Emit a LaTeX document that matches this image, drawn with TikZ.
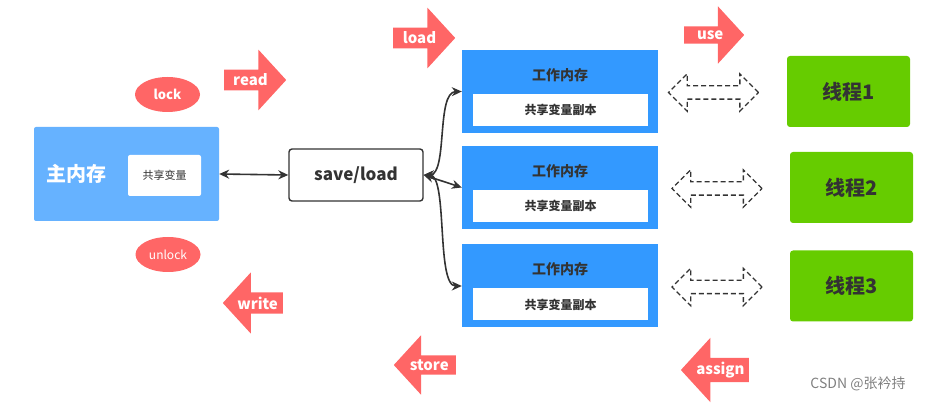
\documentclass[tikz,border=0pt]{standalone}
\usepackage{fontspec}
\setmainfont{Noto Sans CJK SC}
\usetikzlibrary{shapes.geometric}
\usetikzlibrary{shapes.arrows}
\usetikzlibrary{arrows.meta}
\definecolor{mmblue}{HTML}{66B2FF}
\definecolor{wmblue}{HTML}{3399FF}
\definecolor{thgreen}{HTML}{66CC00}
\definecolor{opred}{HTML}{FF6666}
\definecolor{txtdark}{HTML}{333333}
\newcommand{\fsz}[1]{\fontsize{#1}{#1}\selectfont}

\begin{document}
\begin{tikzpicture}[x=1pt,y=-1pt,
opright/.style={single arrow, fill=opred, text=white, font=\fsz{15}\bfseries, inner sep=4pt,
  single arrow head extend=20pt, single arrow tip angle=95, anchor=tail, minimum height=62pt},
opleft/.style={opright, shape border rotate=180},
opoval/.style={ellipse, fill=opred, text=white, minimum width=65pt, minimum height=35pt},
twoway/.style={{Stealth[length=10pt,width=9pt]}-{Stealth[length=10pt,width=9pt]}, draw=txtdark, line width=1.6pt},
swap/.style={double arrow, draw=txtdark, dashed, dash pattern=on 5pt off 3pt, line width=1.3pt,
  inner xsep=0pt, inner ysep=6pt, double arrow head extend=12pt, double arrow tip angle=90, minimum height=90pt}]
\useasboundingbox (0,0) rectangle (940,403);

\node[fill=mmblue, rounded corners=2pt, minimum width=185pt, minimum height=94pt] (mm) at (126.5,174) {};
\node[text=white, font=\fsz{20}\bfseries] (mmlabel) at (76,174) {主内存};
\node[fill=white, rounded corners=2pt, minimum width=73pt, minimum height=41pt, text=txtdark, font=\fsz{11}] (mmvar) at (164.5,175.5) {共享变量};
\node[opoval, font=\fsz{13}\bfseries] (lock) at (167.5,94.5) {lock};
\node[opoval, font=\fsz{12}] (unlock) at (168,254.5) {unlock};

\node[draw=txtdark, line width=1.4pt, rounded corners=3pt, fill=white, minimum width=134pt, minimum height=52pt,
  text=txtdark, font=\fsz{17}\bfseries] (sl) at (356,175) {save/load};

\foreach \i/\y/\tx/\dx in {1/91.5/848.5/713.5, 2/187.5/851.5/717, 3/286/851.5/717} {
  \node[fill=wmblue, minimum width=196pt, minimum height=83pt] (wm\i) at (560,\y) {};
  \node[text=txtdark, font=\fsz{14}\bfseries] (wmtitle\i) at (560,\y-16.5) {工作内存};
  \node[fill=white, minimum width=175pt, minimum height=32pt, text=txtdark, font=\fsz{12}\bfseries] (copy\i) at (560.5,\y+18.5) {共享变量副本};
  \node[swap] (swap\i) at (\dx,\y+1) {};
  \node[fill=thgreen, rounded corners=3pt, minimum width=123pt, minimum height=71pt, text=txtdark, font=\fsz{20}\bfseries] (th\i) at (\tx,\y) {线程\i};
}

\draw[twoway] (mm.east) -- (sl.west);
\draw[twoway] (sl.east) .. controls (448,175) and (436,92) .. (wm1.west);
\draw[twoway] (sl.east) -- (wm2.west);
\draw[twoway] (sl.east) .. controls (448,175) and (436,286) .. (wm3.west);

\node[opright] (read) at (224,80) {read};
\node[opright] (load) at (393,38) {load};
\node[opright, minimum height=60pt] (use) at (684,35) {use};
\node[opleft, minimum height=60pt] (write) at (283,303) {write};
\node[opleft] (store) at (456,365) {store};
\node[opleft, minimum height=60pt] (assign) at (749,370) {assign};

\node[text=gray, font=\fsz{14}] (mark) at (858,384) {CSDN @张衿持};
\end{tikzpicture}
\end{document}
